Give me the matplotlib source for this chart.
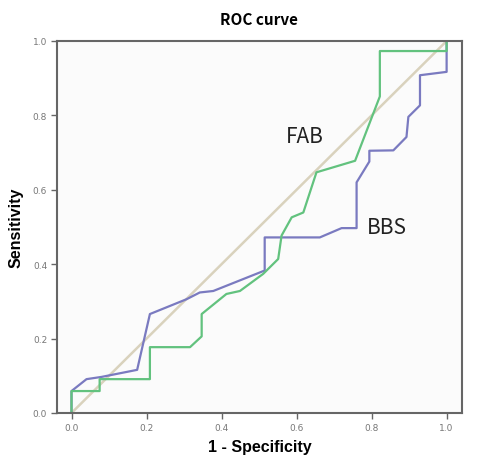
import matplotlib
matplotlib.use("Agg")
import matplotlib.pyplot as plt

# BBS curve (1 - specificity, sensitivity)
bbs_x = [0.0, 0.0, 0.04, 0.08, 0.175, 0.209, 0.307, 0.342, 0.378, 0.515, 0.515,
         0.662, 0.72, 0.76, 0.76, 0.794, 0.794, 0.858, 0.893, 0.898, 0.929, 0.929,
         1.0, 1.0]
bbs_y = [0.0, 0.059, 0.091, 0.097, 0.116, 0.266, 0.306, 0.324, 0.328, 0.383, 0.472,
         0.472, 0.497, 0.497, 0.62, 0.676, 0.705, 0.706, 0.742, 0.796, 0.827, 0.908,
         0.917, 1.0]

# FAB curve
fab_x = [0.0, 0.0, 0.075, 0.075, 0.209, 0.209, 0.316, 0.347, 0.347, 0.413, 0.449,
         0.511, 0.551, 0.56, 0.587, 0.618, 0.653, 0.756, 0.822, 0.822, 1.0, 1.0]
fab_y = [0.0, 0.059, 0.059, 0.091, 0.091, 0.177, 0.177, 0.206, 0.266, 0.32, 0.328,
         0.374, 0.414, 0.477, 0.526, 0.539, 0.647, 0.678, 0.851, 0.973, 0.973, 1.0]

ticks = [0.0, 0.2, 0.4, 0.6, 0.8, 1.0]

fig = plt.figure(figsize=(4.82, 4.6), dpi=100)
fig.patch.set_facecolor("white")
ax = fig.add_axes([0.118, 0.1, 0.8405, 0.8087])
ax.set_facecolor("#fbfbfb")

ax.plot([0, 1], [0, 1], color="#d9d2bd", lw=1.8)
ax.plot(bbs_x, bbs_y, color="#7a7ac0", lw=1.6)
ax.plot(fab_x, fab_y, color="#62c27e", lw=1.6)

kr = ["Noto Sans CJK KR", "DejaVu Sans"]
ax.text(0.622, 0.745, "FAB", fontsize=15, ha="center", va="center",
        color="#222222", family=kr)
ax.text(0.841, 0.5, "BBS", fontsize=15, ha="center", va="center",
        color="#222222", family=kr)

ax.set_xlim(-0.039, 1.041)
ax.set_ylim(0, 1.0)
ax.set_xticks(ticks)
ax.set_yticks(ticks)
ax.set_xticklabels([f"{t:.1f}" for t in ticks])
ax.set_yticklabels([f"{t:.1f}" for t in ticks])
ax.tick_params(direction="out", length=4, width=1, color="#666666",
               labelsize=6.5, labelcolor="#777777", pad=3)
for s in ax.spines.values():
    s.set_color("#666666")
    s.set_linewidth(1.5)

ax.set_title("ROC curve", fontsize=11, fontweight="bold", pad=12, family=kr)
ax.set_xlabel("1 - Specificity", fontsize=11.5, fontweight="bold", labelpad=5,
              family="Liberation Sans")
ax.set_ylabel("Sensitivity", fontsize=11.5, fontweight="bold", labelpad=7,
              family="Liberation Sans")

fig.savefig("out.png", dpi=100)
